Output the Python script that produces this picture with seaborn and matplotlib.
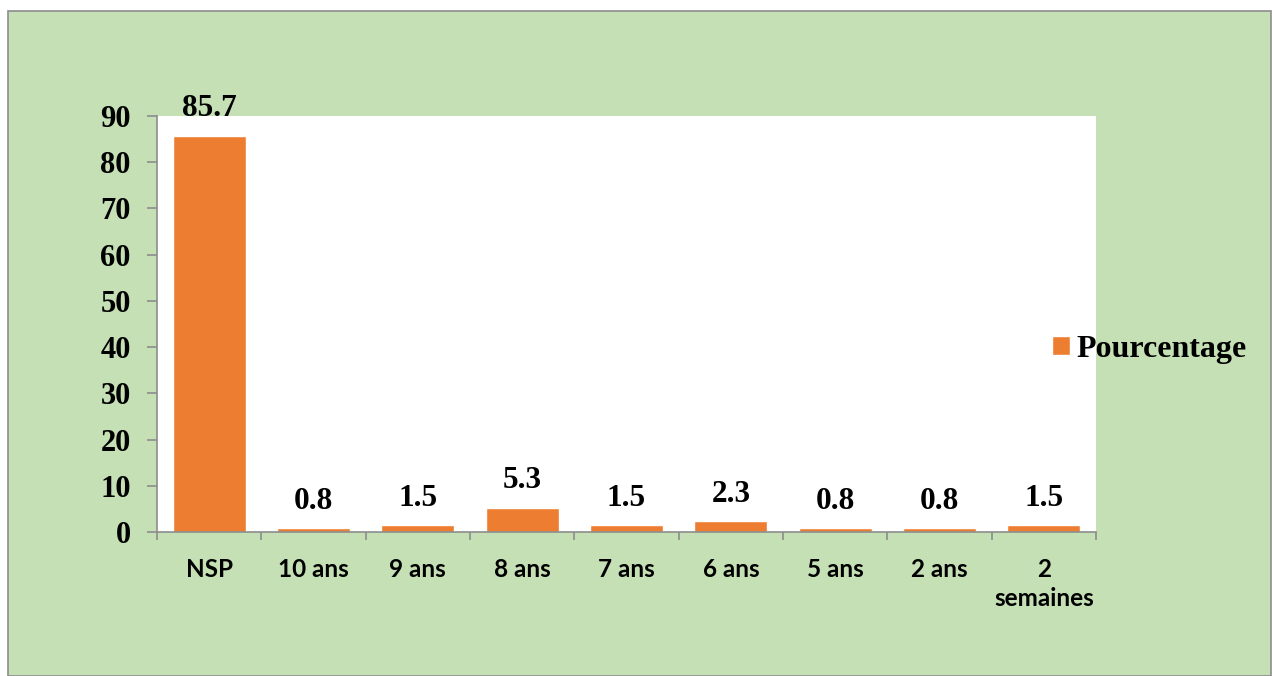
import matplotlib
matplotlib.use("Agg")
import matplotlib.pyplot as plt
import seaborn as sns
import pandas as pd
from matplotlib.patches import Rectangle

# data
categories = ["NSP", "10 ans", "9 ans", "8 ans", "7 ans", "6 ans", "5 ans", "2 ans", "2\nsemaines"]
values = [85.7, 0.8, 1.5, 5.3, 1.5, 2.3, 0.8, 0.8, 1.5]
y_ticks = [0, 10, 20, 30, 40, 50, 60, 70, 80, 90]
series_name = "Pourcentage"

orange = "#ED7D31"
green = "#C5E0B4"
grey = "#8C8C8C"

sns.set_style("white")
plt.rcParams["text.color"] = "black"
plt.rcParams["xtick.labelcolor"] = "black"
plt.rcParams["ytick.labelcolor"] = "black"

df = pd.DataFrame({"cat": categories, "val": values})

fig = plt.figure(figsize=(12.72, 6.76), dpi=100)
fig.patch.set_facecolor("white")

# green chart area with grey border
fig.patches.append(Rectangle((8 / 1272, 0), (1272 - 9) / 1272, (676 - 11) / 676,
                             transform=fig.transFigure, facecolor=green,
                             edgecolor=grey, linewidth=1.2, zorder=-10))

ax = fig.add_axes([157 / 1272, (676 - 532) / 676, (1096 - 157) / 1272, (532 - 116) / 676])
ax.set_facecolor("white")
ax.set_zorder(1)

sns.barplot(data=df, x="cat", y="val", color=orange, width=0.7,
            saturation=1, label=series_name, ax=ax)

ax.set_ylim(0, 90)
ax.set_xlim(-0.5, len(categories) - 0.5)
ax.set_yticks(y_ticks)
ax.set_xlabel("")
ax.set_ylabel("")

for s in ["top", "right"]:
    ax.spines[s].set_visible(False)
for s in ["left", "bottom"]:
    ax.spines[s].set_color(grey)
    ax.spines[s].set_linewidth(1.2)

serif = "Liberation Serif"
sans = "Lato"

ax.tick_params(axis="y", length=7, width=1.2, color=grey, labelcolor="black", pad=12, left=True)
for lab in ax.get_yticklabels():
    lab.set_fontfamily(serif)
    lab.set_fontweight("bold")
    lab.set_fontsize(22)

# category boundary ticks on x
ax.set_xticks([i - 0.5 for i in range(len(categories) + 1)], minor=True)
ax.tick_params(axis="x", which="minor", length=6, width=1.2, color=grey, bottom=True)
ax.tick_params(axis="x", which="major", length=0, pad=19, labelcolor="black")
ax.set_xticks(range(len(categories)))
ax.set_xticklabels(categories, fontfamily=sans, fontweight="bold", fontsize=17.5,
                   linespacing=1.3, color="black")

for c in ax.containers:
    labels = ax.bar_label(c, labels=[f"{v:.1f}" for v in values], padding=9,
                          fontfamily=serif, fontweight="bold", fontsize=22.5,
                          color="black")
    for t in labels:
        t.set_clip_on(False)

leg = ax.legend(loc="center left", bbox_to_anchor=(1052 / 1272, (676 - 349) / 676),
                bbox_transform=fig.transFigure, frameon=False,
                borderpad=0, borderaxespad=0,
                handlelength=0.55, handleheight=0.55, handletextpad=0.22,
                labelcolor="black",
                prop={"family": serif, "weight": "bold", "size": 23})

fig.savefig("out.png", dpi=100, facecolor=fig.get_facecolor())
